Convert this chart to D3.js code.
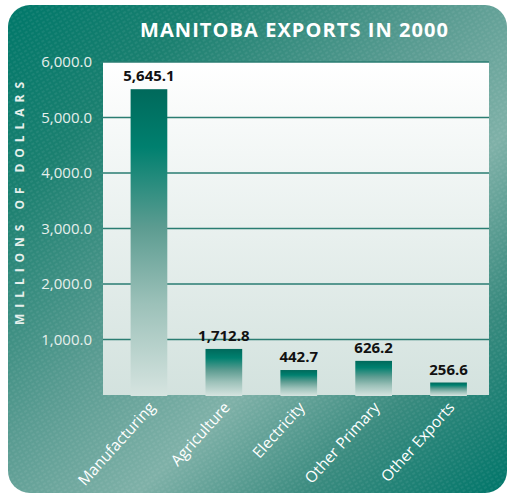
<!DOCTYPE html>
<html>
<head>
<meta charset="utf-8">
<script src="https://cdn.jsdelivr.net/npm/d3@7"></script>
<style>
  html, body { margin: 0; padding: 0; background: #ffffff; }
  svg { display: block; font-family: 'Open Sans', 'Noto Sans', sans-serif; }
</style>
</head>
<body>
<div class="chart"></div>
<script>
const categories = ['Manufacturing', 'Agriculture', 'Electricity', 'Other Primary', 'Other Exports']
// values printed above the bars
const labelValues = [5645.1, 1712.8, 442.7, 626.2, 256.6]
// bar heights as they are drawn in the source picture (they do not all match the printed values)
const barValues = [5510, 830, 450, 615, 225]
const yTicks = [1000, 2000, 3000, 4000, 5000, 6000]

const chartData = categories.map((c, i) => ({ category: c, label: labelValues[i], value: barValues[i] }))

const width = 511
const height = 494
const plot = { left: 103, right: 489, top: 62, bottom: 395 }

const svg = d3.select('.chart')
  .append('svg')
  .attr('width', width)
  .attr('height', height)

const defs = svg.append('defs')

// Panel gradient.
const bg = defs.append('linearGradient')
  .attr('id', 'bg')
  .attr('x1', 0).attr('y1', 0).attr('x2', 1).attr('y2', 1)
bg.selectAll('stop')
  .data([[0, '#00786a'], [0.2, '#1b8070'], [0.45, '#5a9c92'], [0.63, '#7fb1a8'], [0.8, '#3a8b7f'], [1, '#00766a']])
  .enter().append('stop')
  .attr('offset', d => d[0])
  .attr('stop-color', d => d[1])

// Fine diagonal texture.
const tex = defs.append('pattern')
  .attr('id', 'tex')
  .attr('width', 5).attr('height', 4)
  .attr('patternUnits', 'userSpaceOnUse')
  .attr('patternTransform', 'rotate(-30)')
tex.append('line')
  .attr('x1', 0).attr('y1', 1).attr('x2', 3).attr('y2', 1)
  .attr('stroke', '#ffffff').attr('stroke-opacity', 0.12).attr('stroke-width', 1)

// Plot area gradient.
const plotGrad = defs.append('linearGradient')
  .attr('id', 'plotbg')
  .attr('x1', 0).attr('y1', 0).attr('x2', 0).attr('y2', 1)
plotGrad.append('stop').attr('offset', 0).attr('stop-color', '#ffffff')
plotGrad.append('stop').attr('offset', 1).attr('stop-color', '#d3e2de')

// Bar gradient.
const barGrad = defs.append('linearGradient')
  .attr('id', 'bar')
  .attr('x1', 0).attr('y1', 0).attr('x2', 0).attr('y2', 1)
barGrad.selectAll('stop')
  .data([[0, '#00695b'], [0.19, '#00806f'], [0.45, '#5c9c91'], [0.7, '#9cc1b9'], [1, '#d6e4e0']])
  .enter().append('stop')
  .attr('offset', d => d[0])
  .attr('stop-color', d => d[1])

// Draw base.
svg.append('rect')
  .attr('x', 8).attr('y', 5)
  .attr('width', 499).attr('height', 488)
  .attr('rx', 22)
  .style('fill', 'url(#bg)')
svg.append('rect')
  .attr('x', 8).attr('y', 5)
  .attr('width', 499).attr('height', 488)
  .attr('rx', 22)
  .style('fill', 'url(#tex)')

svg.append('rect')
  .attr('x', plot.left).attr('y', plot.top)
  .attr('width', plot.right - plot.left)
  .attr('height', plot.bottom - plot.top)
  .style('fill', 'url(#plotbg)')

// Scales.
const xScale = d3.scaleBand()
  .domain(categories)
  .range([111.5, 486])
  .paddingInner(0.51)
  .paddingOuter(0.255)

const yScale = d3.scaleLinear()
  .domain([0, 6000])
  .range([plot.bottom, plot.top])

// Grid lines.
svg.selectAll('.grid')
  .data(yTicks)
  .enter()
  .append('line')
  .attr('class', 'grid')
  .attr('x1', plot.left)
  .attr('x2', plot.right)
  .attr('y1', d => yScale(d))
  .attr('y2', d => yScale(d))
  .style('stroke', '#2a7d72')
  .style('stroke-width', 1.5)

// Y axis labels.
const yAxis = d3.axisLeft(yScale)
  .tickValues(yTicks)
  .tickFormat(d3.format(',.1f'))
  .tickSize(0)
  .tickPadding(11)

const yAxisG = svg.append('g')
  .attr('transform', `translate(${plot.left}, 0)`)
  .call(yAxis)
yAxisG.select('.domain').remove()
yAxisG.selectAll('text')
  .style('font-family', "'Open Sans', sans-serif")
  .style('font-size', '15px')
  .style('fill', '#e6efec')

svg.append('text')
  .attr('transform', 'translate(24, 203.5) rotate(-90)')
  .attr('text-anchor', 'middle')
  .attr('textLength', 243)
  .attr('lengthAdjust', 'spacing')
  .style('font-size', '12px')
  .style('font-weight', 'bold')
  .style('fill', '#e6efec')
  .text('MILLIONS OF DOLLARS')

// Draw bars.
svg.selectAll('.bar')
  .data(chartData)
  .enter()
  .append('rect')
  .attr('class', 'bar')
  .attr('x', d => xScale(d.category))
  .attr('y', d => yScale(d.value))
  .attr('width', xScale.bandwidth())
  .attr('height', d => yScale(0) + 1 - yScale(d.value))
  .style('fill', 'url(#bar)')

// Value labels.
svg.selectAll('.value')
  .data(chartData)
  .enter()
  .append('text')
  .attr('class', 'value')
  .attr('x', d => xScale(d.category) + xScale.bandwidth() / 2)
  .attr('y', d => yScale(d.value) - 8)
  .attr('text-anchor', 'middle')
  .style('font-size', '15px')
  .style('font-weight', 'bold')
  .style('fill', '#111111')
  .text(d => d3.format(',.1f')(d.label))

// Category labels.
svg.selectAll('.cat')
  .data(chartData)
  .enter()
  .append('text')
  .attr('class', 'cat')
  .attr('transform', d => `translate(${xScale(d.category) + xScale.bandwidth() / 2 + 7}, 408) rotate(-48)`)
  .attr('text-anchor', 'end')
  .style('font-size', '15.5px')
  .style('fill', '#ffffff')
  .text(d => d.category)

// Title.
svg.append('text')
  .attr('x', 294)
  .attr('y', 37)
  .attr('text-anchor', 'middle')
  .attr('textLength', 308)
  .attr('lengthAdjust', 'spacing')
  .style('font-size', '20px')
  .style('font-weight', 'bold')
  .style('fill', '#ffffff')
  .text('MANITOBA EXPORTS IN 2000')
</script>
</body>
</html>
